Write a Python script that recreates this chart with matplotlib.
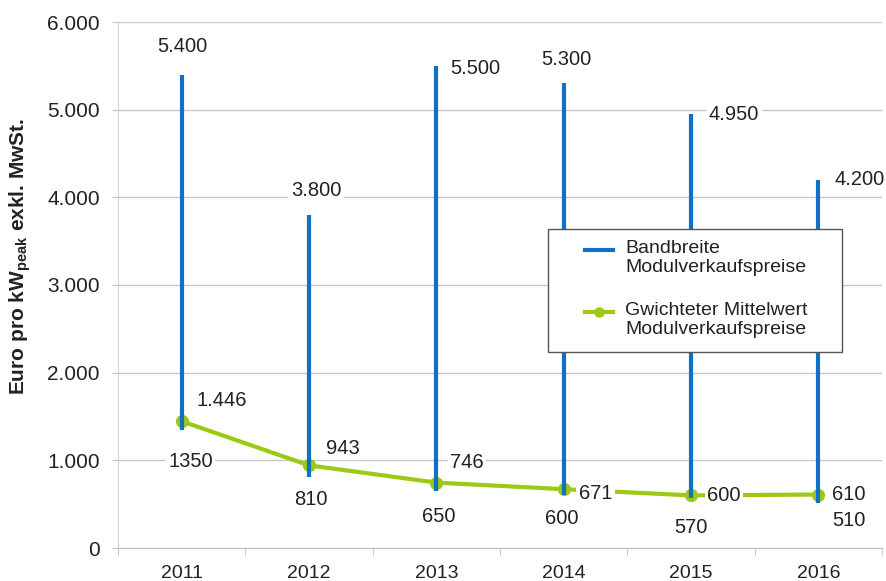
import numpy as np
import matplotlib.pyplot as plt
from matplotlib.lines import Line2D
from matplotlib.patches import Rectangle

plt.rcParams['font.family'] = ['Liberation Sans', 'DejaVu Sans']

# data
years = ['2011', '2012', '2013', '2014', '2015', '2016']
high = [5400, 3800, 5500, 5300, 4950, 4200]
low = [1350, 810, 650, 600, 570, 510]
mean = [1446, 943, 746, 671, 600, 610]

high_lbl = ['5.400', '3.800', '5.500', '5.300', '4.950', '4.200']
low_lbl = ['1350', '810', '650', '600', '570', '510']
mean_lbl = ['1.446', '943', '746', '671', '600', '610']
ytick_lbl = ['0', '1.000', '2.000', '3.000', '4.000', '5.000', '6.000']

blue = '#1170C4'
green = '#9DC814'
txt = '#222222'

W, H = 887, 581
fig = plt.figure(figsize=(W / 100, H / 100), dpi=100)
ax = fig.add_axes([118 / W, 33 / H, 764 / W, 526 / H])

x = np.arange(len(years))
ax.plot(x, mean, color=green, lw=3, marker='o', ms=8.5, zorder=3)
ax.vlines(x, low, high, color=blue, lw=3, zorder=4)

bbox = dict(boxstyle='square,pad=0.12', fc='white', ec='none')
fs = 14.5

# label offsets in pixels (dx, dy, ha)
hi_off = [(1, 28, 'center'), (7, 24, 'center'), (14, -3, 'left'),
          (3, 24, 'center'), (18, 0, 'left'), (16, 0, 'left')]
lo_off = [(9, -32, 'center'), (2, -23, 'center'), (2, -25, 'center'),
          (-2, -23, 'center'), (0, -29, 'center'), (14, -17, 'left')]
mn_off = [(15, 21, 'left'), (17, 17, 'left'), (14, 20, 'left'),
          (15, -4, 'left'), (16, 0, 'left'), (14, 0, 'left')]

for vals, lbls, offs in [(high, high_lbl, hi_off), (low, low_lbl, lo_off), (mean, mean_lbl, mn_off)]:
    for i in range(len(x)):
        dx, dy, ha = offs[i]
        ax.annotate(lbls[i], (x[i], vals[i]), xytext=(dx, dy), textcoords='offset pixels',
                    ha=ha, va='center', fontsize=fs, color=txt, bbox=bbox, zorder=5)

ax.set_xlim(-0.5, len(years) - 0.5)
ax.set_ylim(0, 6000)
ax.set_yticks(np.arange(0, 6001, 1000))
ax.set_yticklabels(ytick_lbl)
ax.set_xticks(x)
ax.set_xticklabels(years)
ax.set_xticks(np.arange(-0.5, len(years), 1), minor=True)
ax.tick_params(axis='x', which='major', length=0, pad=12, labelsize=14, colors=txt)
ax.tick_params(axis='x', which='minor', length=5, color='#bfbfbf')
ax.tick_params(axis='y', length=4, color='#bfbfbf', labelsize=15, pad=9, labelcolor=txt)
ax.grid(axis='y', color='#c8c8c8', lw=1)
ax.set_axisbelow(True)
for s in ['top', 'right']:
    ax.spines[s].set_visible(False)
ax.spines['left'].set_color('#d0d0d0')
ax.spines['bottom'].set_color('#bfbfbf')

ax.set_ylabel(r'Euro pro kW$_{\mathregular{peak}}$ exkl. MwSt.', fontsize=15,
              fontweight='bold', color=txt)
ax.yaxis.set_label_coords((33 - 118) / 764, (548 - 256) / 526)

# legend drawn by hand (handle aligned with first text line, like the original)
fig.patches.append(Rectangle((548 / W, 1 - 352 / H), 294 / W, 123 / H, transform=fig.transFigure,
                             fc='white', ec='#555555', lw=1, zorder=10))
leg_items = [(blue, False, 'Bandbreite\nModulverkaufspreise', 250),
             (green, True, 'Gwichteter Mittelwert\nModulverkaufspreise', 312)]
for col, mk, lab, yp in leg_items:
    fig.add_artist(Line2D([585 / W, 613 / W], [1 - yp / H] * 2, transform=fig.transFigure,
                          color=col, lw=3, zorder=11))
    if mk:
        fig.add_artist(Line2D([599 / W], [1 - yp / H], transform=fig.transFigure,
                              color=col, marker='o', ms=6.5, zorder=12))
    fig.text(625 / W, 1 - (yp - 10) / H, lab, ha='left', va='top', fontsize=14,
             color=txt, linespacing=1.12, zorder=13)

fig.savefig('out.png', dpi=100)
